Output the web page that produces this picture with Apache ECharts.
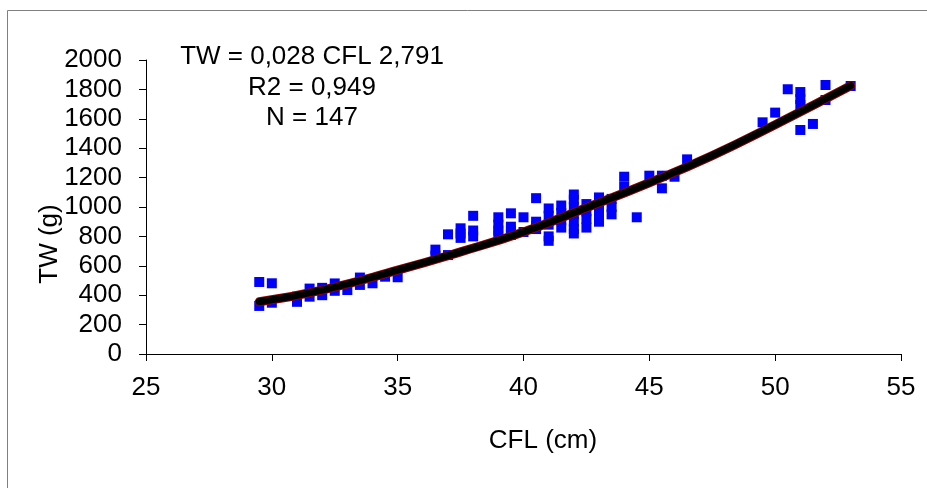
<!DOCTYPE html>
<html>
<head>
<meta charset="utf-8">
<script src="https://cdn.jsdelivr.net/npm/echarts@6/dist/echarts.min.js"></script>
<style>
  html, body { margin: 0; padding: 0; background: #fff; }
  #chart { width: 927px; height: 488px; }
</style>
</head>
<body>
<div id="chart"></div>
<script>
// observed points, grouped by CFL (cm)
const cflGroups = [29.5, 30, 31, 31.5, 32, 32.5, 33, 33.5, 34, 34.5, 35, 36.5, 37, 37.5, 38, 39, 39.5, 40, 40.5, 41, 41.5, 42, 42.5, 43, 43.5, 44, 44.5, 45, 45.5, 46, 46.5, 49.5, 50, 50.5, 51, 51.5, 52, 53]
const twGroups = [
  [490, 327], [481, 349], [390, 355], [445, 390], [450, 400], [480, 430], [435],
  [520, 470], [481], [526], [522], [710, 670], [814, 673], [855, 820, 790],
  [940, 840, 800], [930, 880, 840, 810], [957, 866, 840, 810], [930, 830],
  [1060, 900, 870, 850], [990, 940, 880, 800, 770], [1010, 960, 910, 860],
  [1085, 1050, 1000, 950, 900, 850, 820], [1020, 970, 920, 860],
  [1065, 1020, 960, 900], [1055, 1000, 950], [1206, 1138], [930], [1213],
  [1213, 1127], [1206], [1324], [1576], [1642], [1801],
  [1782, 1735, 1694, 1524], [1565], [1830, 1728], [1823]
]

// fitted power curve
const trendX = [29.5, 32, 35, 37.5, 40, 42.5, 45, 47.5, 50, 53]
const trendY = [355, 435, 570, 695, 830, 995, 1165, 1350, 1560, 1825]

const xTicks = [25, 55, 5]
const yTicks = [0, 2000, 200]

const annotation = ['TW = 0,028 CFL 2,791', 'R2 = 0,949', 'N = 147']

const points = []
cflGroups.forEach((x, i) => twGroups[i].forEach(y => points.push([x, y])))
const trend = trendX.map((x, i) => [x, trendY[i]])

const chart = echarts.init(document.getElementById('chart'))
const font = '"Liberation Sans", Arial, sans-serif'

const axisText = { color: '#000', fontSize: 26, fontFamily: font }
const labelStyle = (text) => ({ text, fill: '#000', font: '26px ' + font, textAlign: 'center', textVerticalAlign: 'middle' })

chart.setOption({
  animation: false,
  grid: { left: 146, right: 26, top: 60, bottom: 134 },
  graphic: [
    {
      type: 'rect',
      shape: { x: 7.5, y: 10.5, width: 940, height: 500 },
      style: { fill: 'none', stroke: '#808080', lineWidth: 1 },
      z: -1
    },
    // axis titles
    { type: 'text', x: 50, y: 244, rotation: Math.PI / 2, style: labelStyle('TW (g)') },
    { type: 'text', x: 543, y: 441, style: labelStyle('CFL (cm)') },
    ...annotation.map((t, i) => ({
      type: 'text',
      x: 312, y: 57 + i * 30.5,
      style: labelStyle(t)
    }))
  ],
  xAxis: {
    type: 'value',
    min: xTicks[0], max: xTicks[1], interval: xTicks[2],
    axisLine: { lineStyle: { color: '#000', width: 1 } },
    axisTick: { show: true, length: 7, lineStyle: { color: '#000' } },
    axisLabel: { ...axisText, margin: 21 },
    splitLine: { show: false }
  },
  yAxis: {
    type: 'value',
    min: yTicks[0], max: yTicks[1], interval: yTicks[2],
    axisLine: { show: true, lineStyle: { color: '#000', width: 1 } },
    axisTick: { show: true, length: 7, lineStyle: { color: '#000' } },
    axisLabel: { ...axisText, margin: 24, formatter: v => String(v) },
    splitLine: { show: false }
  },
  series: [
    {
      type: 'scatter',
      data: points,
      symbol: 'rect',
      symbolSize: 10,
      itemStyle: { color: '#0000FF', opacity: 1 }
    },
    {
      type: 'line',
      data: trend,
      smooth: true,
      showSymbol: false,
      lineStyle: { color: '#8B0000', width: 9, cap: 'round' },
      z: 3
    },
    {
      type: 'line',
      data: trend,
      smooth: true,
      showSymbol: false,
      lineStyle: { color: '#000', width: 7, cap: 'round' },
      z: 4
    }
  ]
})
</script>
</body>
</html>
